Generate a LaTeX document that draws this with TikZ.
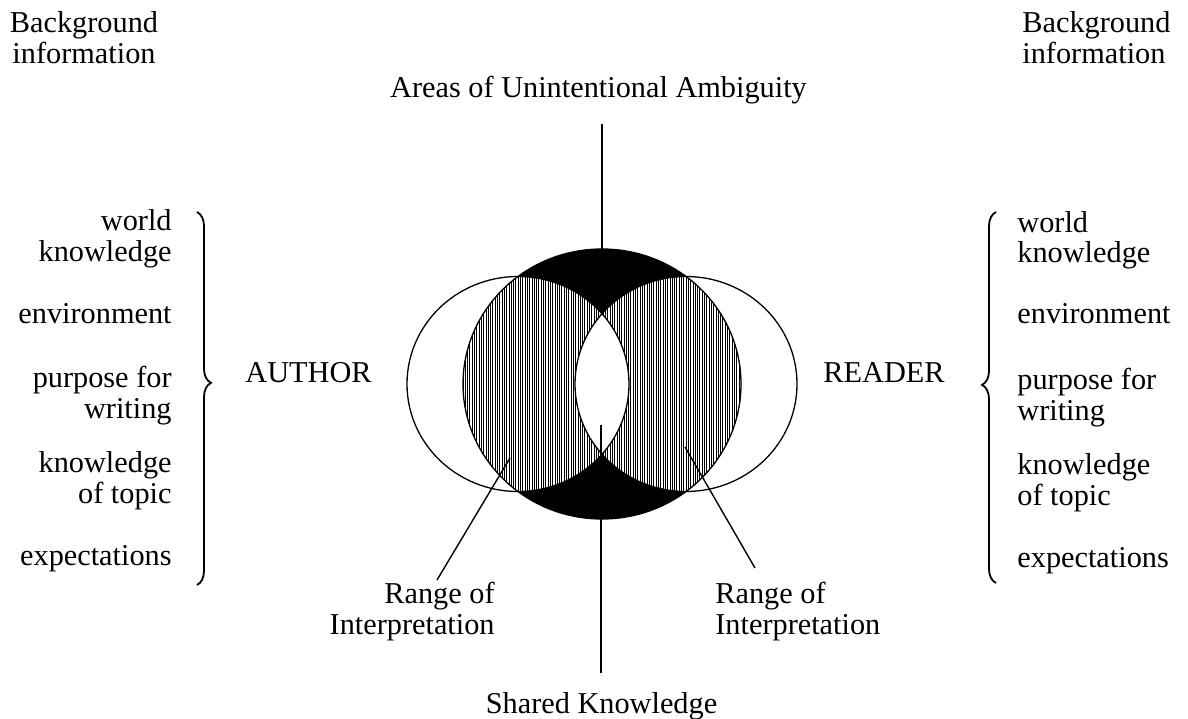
\documentclass[tikz,border=0pt]{standalone}
\usepackage{fontspec}
\setmainfont{Liberation Serif}
\usetikzlibrary{decorations.pathreplacing}
\newcommand{\labelfont}{\fontsize{15.15}{15.25}\selectfont}
\tikzset{
  lbl/.style={inner sep=0pt, font=\labelfont},
  lblR/.style={lbl, align=right, anchor=base east},
  lblL/.style={lbl, align=left, anchor=base west},
  outline/.style={line width=0.65pt},
  connector/.style={line width=0.7pt},
  axisline/.style={line width=0.8pt},
  bracket/.style={line width=0.9pt, decorate},
  hatchline/.style={line width=0.42pt}
}
\begin{document}
\begin{tikzpicture}[x=0.5pt,y=-0.5pt]
\useasboundingbox (0,0) rectangle (1188,718);

% centres of the three circles
\coordinate (cC) at (602,384);
\coordinate (cL) at (518,384);
\coordinate (cR) at (686,384);
\def\bigC{(cC) ellipse [x radius=139, y radius=135]}
\def\leftC{(cL) ellipse [x radius=111, y radius=107.5]}
\def\rightC{(cR) ellipse [x radius=111, y radius=107.5]}

% black: big circle outside both small circles
\fill \bigC;
\begin{scope}
  \clip \bigC;
  \fill[white] \leftC;
  \fill[white] \rightC;
\end{scope}
% vertical hatching: big circle inside one small circle
\begin{scope}
  \clip \bigC;
  \clip \leftC;
  \foreach \x in {463,465.3,...,742} \draw[hatchline] (\x,240) -- (\x,528);
\end{scope}
\begin{scope}
  \clip \bigC;
  \clip \rightC;
  \foreach \x in {463,465.3,...,742} \draw[hatchline] (\x,240) -- (\x,528);
\end{scope}
% white lens where both small circles overlap
\begin{scope}
  \clip \leftC;
  \fill[white] \rightC;
\end{scope}
% outlines
\draw[outline] \bigC;
\draw[outline] \leftC;
\draw[outline] \rightC;

% labels (base anchor of a two-line label is its last line)
\node[lbl, align=center, anchor=base] (bgL) at (84,63) {Background\\information};
\node[lblL] (bgR) at (1022,63) {Background\\information};
\node[lbl, anchor=base] (amb) at (598.5,97) {Areas of Unintentional Ambiguity};
\node[lbl, anchor=base] (shared) at (601.5,713) {Shared Knowledge};

\node[lblR] (wkL) at (172,261) {world\\knowledge};
\node[lblR] (envL) at (172,323) {environment};
\node[lblR] (purL) at (172,418) {purpose for\\writing};
\node[lblR] (topL) at (172,503) {knowledge\\of topic};
\node[lblR] (expL) at (172,565) {expectations};

\node[lblL] (wkR) at (1017,262.5) {world\\knowledge};
\node[lblL] (envR) at (1017,323) {environment};
\node[lblL] (purR) at (1017,420) {purpose for\\writing};
\node[lblL] (topR) at (1017,505) {knowledge\\of topic};
\node[lblL] (expR) at (1017,567) {expectations};

\node[lbl, anchor=base west] (author) at (245,382) {AUTHOR};
\node[lbl, anchor=base west] (reader) at (823,382) {READER};

\node[lblR] (rangeL) at (495,634) {Range of\\Interpretation};
\node[lblL] (rangeR) at (715,634) {Range of\\Interpretation};

% braces
\coordinate (brLtop) at (197,212);
\coordinate (brLbot) at (197,585);
\coordinate (brRtop) at (996,212);
\coordinate (brRbot) at (996,583);
\draw[bracket, decoration={brace, amplitude=7pt, aspect=0.458}] (brLtop) -- (brLbot);
\draw[bracket, decoration={brace, amplitude=7pt, aspect=0.534}] (brRbot) -- (brRtop);

% connectors
\coordinate (ambEnd) at (602,124);
\coordinate (Ctop) at (602,249);
\draw[axisline] (ambEnd) -- (Ctop);
\coordinate (sharedEnd) at (601,673);
\coordinate (lensLow) at (601,425);
\draw[axisline] (sharedEnd) -- (lensLow);
\coordinate (pL) at (437,580);
\coordinate (hL) at (510,458);
\draw[connector] (pL) -- (hL);
\coordinate (pR) at (755,568);
\coordinate (hR) at (685,447);
\draw[connector] (pR) -- (hR);
\end{tikzpicture}
\end{document}
